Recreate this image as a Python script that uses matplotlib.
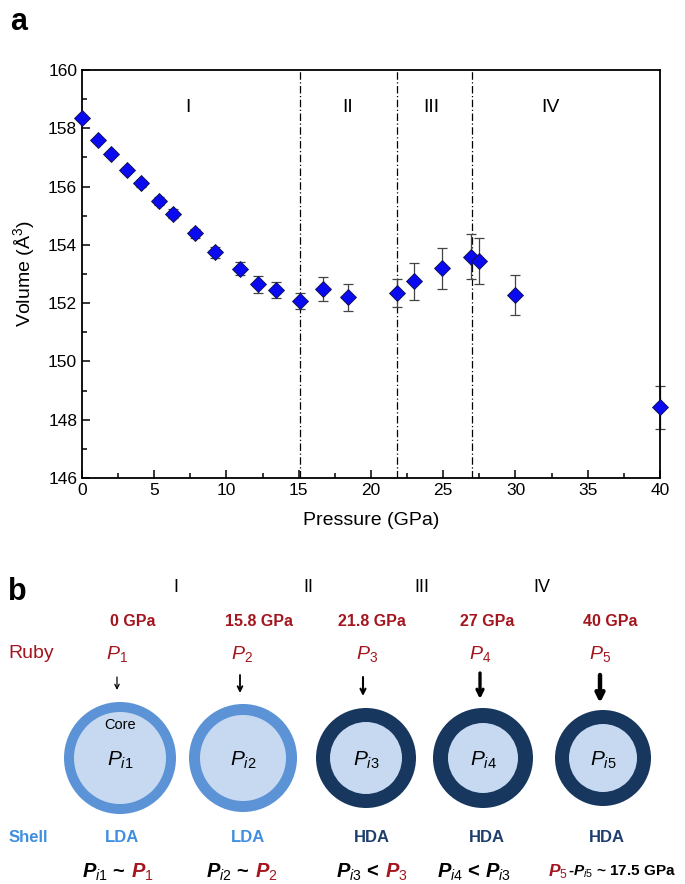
import matplotlib
matplotlib.use("Agg")
import matplotlib.pyplot as plt
from matplotlib.patches import Circle

plt.rcParams['font.family'] = ['Liberation Sans', 'DejaVu Sans']
plt.rcParams['mathtext.fontset'] = 'custom'
plt.rcParams['mathtext.rm'] = 'Liberation Sans'
plt.rcParams['mathtext.it'] = 'Liberation Sans:italic'
plt.rcParams['mathtext.bf'] = 'Liberation Sans:bold'
plt.rcParams['mathtext.bfit'] = 'Liberation Sans:italic:bold'

# ---- panel a data ----
pressure = [0, 1.1, 2.0, 3.1, 4.1, 5.3, 6.3, 7.8, 9.2, 10.9, 12.2, 13.4,
            15.1, 16.7, 18.4, 21.8, 23.0, 24.9, 26.9, 27.5, 30.0, 40.0]
volume = [158.35, 157.6, 157.12, 156.58, 156.12, 155.5, 155.07, 154.4,
          153.74, 153.18, 152.64, 152.45, 152.07, 152.48, 152.2, 152.36,
          152.75, 153.2, 153.6, 153.44, 152.29, 148.42]
verr = [0.05, 0.08, 0.1, 0.1, 0.12, 0.14, 0.15, 0.15, 0.2, 0.22, 0.28, 0.28,
        0.28, 0.42, 0.46, 0.48, 0.63, 0.7, 0.78, 0.78, 0.68, 0.75]
boundaries = [15.1, 21.8, 27.0]
phases = ['I', 'II', 'III', 'IV']
phase_x = [7.3, 18.4, 24.2, 32.4]

# ---- panel b data ----
gpa_labels = ['0 GPa', '15.8 GPa', '21.8 GPa', '27 GPa', '40 GPa']
ruby_labels = [r'$P_{\mathit{1}}$', r'$P_{\mathit{2}}$', r'$P_{\mathit{3}}$',
               r'$P_{\mathit{4}}$', r'$P_{\mathit{5}}$']
core_labels = [r'$P_{\mathit{i1}}$', r'$P_{\mathit{i2}}$', r'$P_{\mathit{i3}}$',
               r'$P_{\mathit{i4}}$', r'$P_{\mathit{i5}}$']
shell_labels = ['LDA', 'LDA', 'HDA', 'HDA', 'HDA']
rel_black = [r'$\mathbfit{P}_{\mathit{i1}}$ ~', r'$\mathbfit{P}_{\mathit{i2}}$ ~',
             r'$\mathbfit{P}_{\mathit{i3}}$ <', r'$\mathbfit{P}_{\mathit{i4}}$ < $\mathbfit{P}_{\mathit{i3}}$',
             r'-$\mathbfit{P}_{\mathit{i5}}$ ~ 17.5 GPa']
rel_red = [r'$\mathbfit{P}_{\mathit{1}}$', r'$\mathbfit{P}_{\mathit{2}}$', r'$\mathbfit{P}_{\mathit{3}}$', '',
           r'$\mathbfit{P}_{\mathit{5}}$']

red = '#a3161f'
light = '#5b93d6'
light_txt = '#3f8ee0'
core = '#c6d9f0'
dark = '#17375e'
dark_txt = '#1f3f6e'

fig = plt.figure(figsize=(6.85, 8.84), dpi=100)

ax = fig.add_axes([0.1197, 0.4593, 0.8438, 0.4615])
ax.errorbar(pressure, volume, yerr=verr, fmt='none', ecolor='#444444',
            elinewidth=0.9, capsize=3.5, capthick=0.9, zorder=2, clip_on=False)
ax.plot(pressure, volume, 'D', color='#0a0af0', markeredgecolor='#101040',
        markeredgewidth=0.6, markersize=8, zorder=3, clip_on=False)
for b in boundaries:
    ax.axvline(b, color='black', lw=0.9, ls='-.', dashes=(6, 2, 1, 2), zorder=1)
for lab, px in zip(phases, phase_x):
    ax.text(px, 158.7, lab, ha='center', va='center', fontsize=14)
ax.set_xlim(0, 40)
ax.set_ylim(146, 160)
ax.set_xticks(range(0, 41, 5))
ax.set_xticks([x + 2.5 for x in range(0, 40, 5)], minor=True)
ax.set_yticks(range(146, 161, 2))
ax.set_yticks(range(147, 160, 2), minor=True)
ax.tick_params(which='both', direction='in', labelsize=12.5, width=1.1)
ax.tick_params(which='major', length=6)
ax.tick_params(which='minor', length=3.5)
for s in ax.spines.values():
    s.set_linewidth(1.3)
ax.set_xlabel('Pressure (GPa)', fontsize=14, labelpad=10)
ax.set_ylabel('Volume (Å$^3$)', fontsize=14, labelpad=8)

fig.text(10 / 685, 1 - 22 / 884, 'a', fontsize=22, fontweight='bold', va='center')

# ---- panel b: pixel coordinates ----
axb = fig.add_axes([0, 0, 1, 0.36])
axb.set_xlim(0, 685)
axb.set_ylim(884, 884 - 0.36 * 884)
axb.axis('off')

col_x = [120, 243, 366, 483, 603]
outer_r = [56, 54, 50, 50, 48]
inner_r = [46, 43, 36, 35, 34]
shell_col = [light, light, dark, dark, dark]
txt_col = [light_txt, light_txt, dark_txt, dark_txt, dark_txt]
arrow_lw = [0.9, 1.3, 1.5, 2.4, 3.2]
arrow_top = [677, 675, 677, 673, 675]
arrow_bot = [690, 693, 696, 699, 703]

axb.text(8, 592, 'b', fontsize=22, fontweight='bold', va='center')
for lab, px in zip(phases, [176, 308, 422, 542]):
    axb.text(px, 588, lab, ha='center', va='center', fontsize=13)
axb.text(8, 654, 'Ruby', color=red, fontsize=14, va='center')
axb.text(28, 837, 'Shell', color=light_txt, fontsize=12, fontweight='bold',
         ha='center', va='center')

gpa_x = [133, 259, 372, 487, 610]
ruby_x = [117, 242, 367, 480, 600]
shell_x = [122, 248, 372, 487, 607]
rel_x = [126, 250, 380, 474, 568]
for i in range(5):
    axb.text(gpa_x[i], 622, gpa_labels[i], color=red, fontsize=11.5,
             fontweight='bold', ha='center', va='center')
    axb.text(ruby_x[i], 654, ruby_labels[i], color=red, fontsize=14,
             ha='center', va='center')
    axb.annotate('', xy=(col_x[i] - 3, arrow_bot[i]), xytext=(col_x[i] - 3, arrow_top[i]),
                 arrowprops=dict(arrowstyle='->', lw=arrow_lw[i], color='black',
                                 shrinkA=0, shrinkB=0,
                                 mutation_scale=6 + 2 * arrow_lw[i]))
    axb.add_patch(Circle((col_x[i], 758), outer_r[i], color=shell_col[i], lw=0))
    axb.add_patch(Circle((col_x[i], 758), inner_r[i], color=core, lw=0))
    axb.text(col_x[i], 760, core_labels[i], fontsize=15, ha='center', va='center')
    axb.text(shell_x[i], 837, shell_labels[i], color=txt_col[i], fontsize=12,
             fontweight='bold', ha='center', va='center')
    if i < 4:
        axb.text(rel_x[i], 872, rel_black[i], fontsize=14.5, fontweight='bold',
                 ha='right' if rel_red[i] else 'center', va='center')
        if rel_red[i]:
            axb.text(rel_x[i] + 5, 872, rel_red[i], fontsize=14.5, color=red,
                     ha='left', va='center')
    else:
        axb.text(rel_x[i], 872, rel_red[i], fontsize=12.5, color=red,
                 ha='right', va='center')
        axb.text(rel_x[i], 872, rel_black[i], fontsize=11, fontweight='bold',
                 ha='left', va='center')
axb.text(col_x[0], 725, 'Core', fontsize=10.5, ha='center', va='center')

fig.savefig('out.png', dpi=100)
